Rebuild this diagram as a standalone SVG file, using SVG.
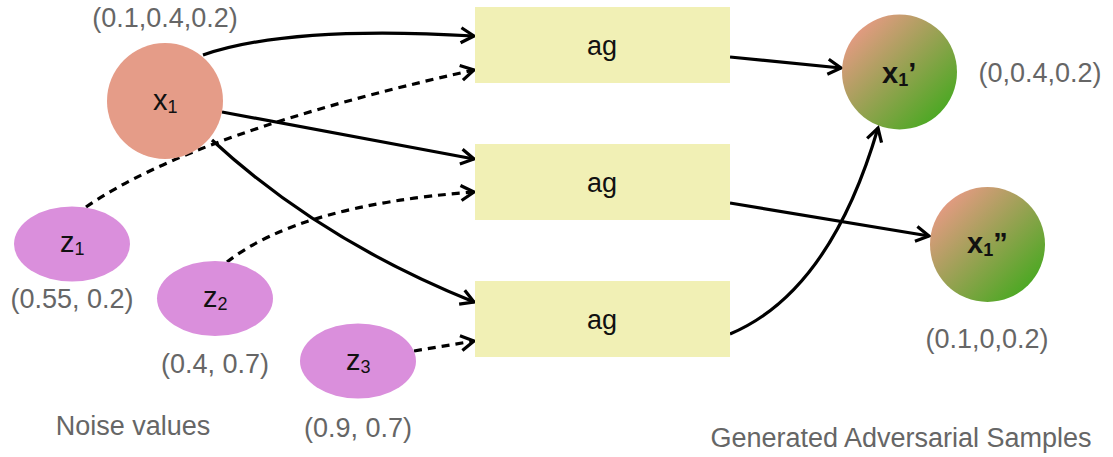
<svg xmlns="http://www.w3.org/2000/svg" width="1113" height="457" viewBox="0 0 1113 457">
<style>
.lbl{font-family:"Liberation Sans",Arial,sans-serif;font-size:27px;fill:#666666;text-anchor:middle}
.nt{font-family:"Liberation Sans",Arial,sans-serif;font-size:29px;fill:#111111}
.bt{font-family:"Liberation Sans",Arial,sans-serif;font-size:27px;fill:#111111;text-anchor:middle}
.b{font-weight:bold}
.box{fill:#f1f0b5}
.noise{fill:#da8fdc}
.edge{fill:none;stroke:#000;stroke-width:3.2;marker-end:url(#arr)}
.dash{stroke-dasharray:8,6}
</style>
<defs>
<marker id="arr" markerUnits="userSpaceOnUse" markerWidth="20" markerHeight="20" refX="15" refY="10" orient="auto">
<path d="M2,2.5 L15,10 L2,17.5" fill="none" stroke="#000" stroke-width="3.2" stroke-dasharray="none"/>
</marker>
<linearGradient id="adv" x1="0" y1="0" x2="1" y2="1">
<stop offset="0.1" stop-color="#ea9a86"/>
<stop offset="0.95" stop-color="#3aaa18"/>
</linearGradient>
</defs>

<g id="connectors">
<path class="edge" d="M203,55 Q290,25 474,36"/>
<path class="edge dash" d="M86,207 Q195,132 474,70"/>
<path class="edge" d="M222,112 L474,159"/>
<path class="edge dash" d="M227,262 Q300,205 474,192"/>
<path class="edge" d="M212,140 Q320,240 474,302"/>
<path class="edge dash" d="M414,351 L474,341"/>
<path class="edge" d="M730,57 L841,68"/>
<path class="edge" d="M730,203 L929,236"/>
<path class="edge" d="M730,334 Q830,292 878,128"/>
</g>

<g id="x1">
<circle cx="165" cy="101" r="58" fill="#e59c88"/>
<text class="nt" x="153" y="110">x<tspan font-size="18" dy="3">1</tspan></text>
</g>
<text class="lbl" x="165" y="27">(0.1,0.4,0.2)</text>

<g id="z1">
<ellipse class="noise" cx="72" cy="244" rx="58" ry="37.5"/>
<text class="nt" x="60" y="252">z<tspan font-size="18" dy="3">1</tspan></text>
</g>
<text class="lbl" x="72" y="308">(0.55, 0.2)</text>

<g id="z2">
<ellipse class="noise" cx="215" cy="298.5" rx="58" ry="37.5"/>
<text class="nt" x="203" y="307">z<tspan font-size="18" dy="3">2</tspan></text>
</g>
<text class="lbl" x="215" y="373">(0.4, 0.7)</text>

<g id="z3">
<ellipse class="noise" cx="358" cy="361" rx="58" ry="37.5"/>
<text class="nt" x="346" y="370">z<tspan font-size="18" dy="3">3</tspan></text>
</g>
<text class="lbl" x="358" y="437">(0.9, 0.7)</text>

<text class="lbl" x="133" y="435">Noise values</text>

<g id="ag1">
<rect class="box" x="475" y="7" width="255" height="76"/>
<text class="bt" x="602" y="55">ag</text>
</g>
<g id="ag2">
<rect class="box" x="475" y="144" width="255" height="76"/>
<text class="bt" x="602" y="192">ag</text>
</g>
<g id="ag3">
<rect class="box" x="475" y="281" width="255" height="76"/>
<text class="bt" x="602" y="329">ag</text>
</g>

<g id="x1p">
<circle cx="899.5" cy="72" r="57.5" fill="url(#adv)"/>
<text class="nt b" x="882" y="83">x<tspan font-size="18" dy="3">1</tspan><tspan dy="-3">’</tspan></text>
</g>
<text class="lbl" x="1040" y="82">(0,0.4,0.2)</text>

<g id="x1pp">
<circle cx="987.5" cy="244.5" r="57.5" fill="url(#adv)"/>
<text class="nt b" x="967" y="253">x<tspan font-size="18" dy="3">1</tspan><tspan dy="-3">”</tspan></text>
</g>
<text class="lbl" x="987" y="348">(0.1,0,0.2)</text>

<text class="lbl" x="901" y="447">Generated Adversarial Samples</text>
</svg>
